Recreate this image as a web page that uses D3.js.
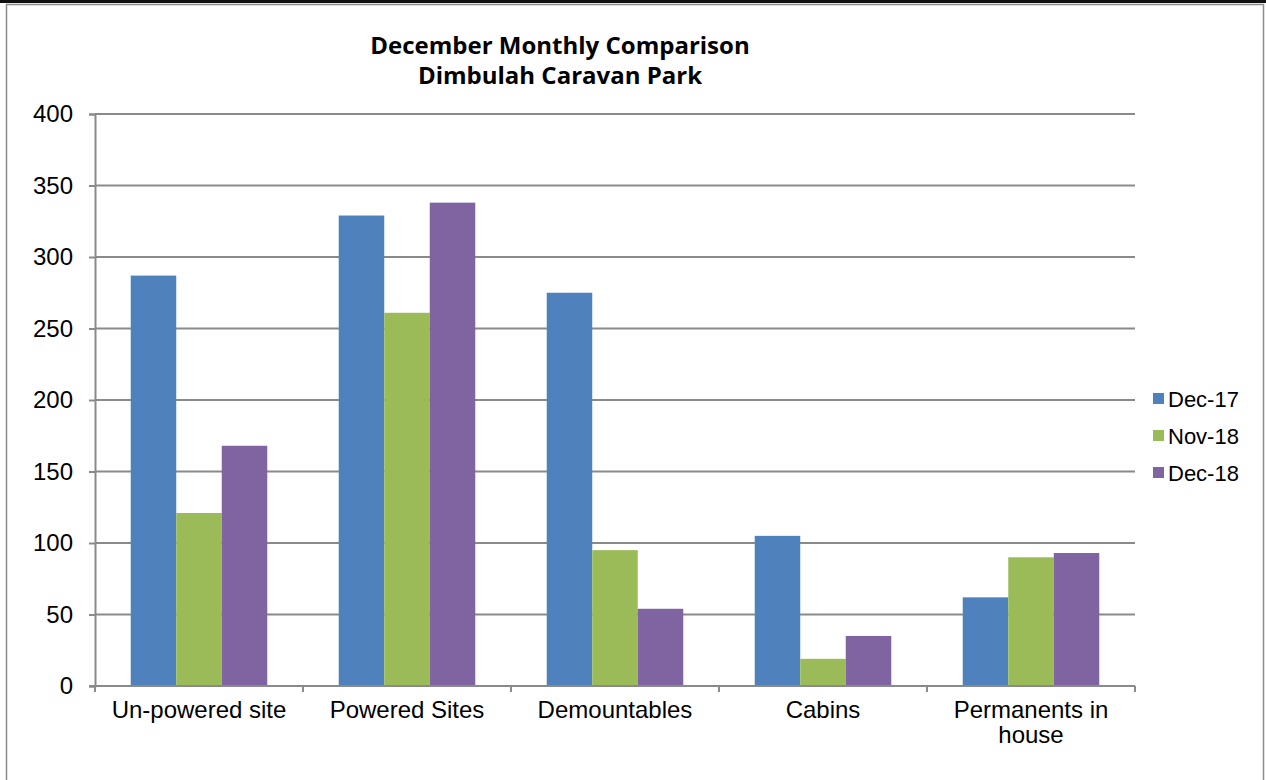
<!DOCTYPE html>
<html>
<head>
<meta charset="utf-8">
<script src="https://cdn.jsdelivr.net/npm/d3@7"></script>
<style>
  body { margin: 0; background: #fff; }
  svg { display: block; }
</style>
</head>
<body>
<svg></svg>
<script>
const categories = ["Un-powered site", "Powered Sites", "Demountables", "Cabins", "Permanents in house"];
const seriesNames = ["Dec-17", "Nov-18", "Dec-18"];
const dec17 = [287, 329, 275, 105, 62];
const nov18 = [121, 261, 95, 19, 90];
const dec18 = [168, 338, 54, 35, 93];
const yTicks = [0, 50, 100, 150, 200, 250, 300, 350, 400];
const colors = ["#4F81BD", "#9BBB59", "#8064A2"];

const svgWidth = 1266;
const svgHeight = 780;

const svg = d3.select("svg")
    .attr("width", svgWidth)
    .attr("height", svgHeight);

// outer frame
svg.append("rect")
    .attr("x", 6.5).attr("y", 4.5)
    .attr("width", 1257).attr("height", 780)
    .attr("fill", "#fff")
    .attr("stroke", "#8c8c8c")
    .attr("stroke-width", 1.5);
svg.append("rect")
    .attr("x", 0).attr("y", 0)
    .attr("width", svgWidth).attr("height", 3)
    .attr("fill", "#111");

const margin = {top: 114, left: 95};
const width = 1040;
const height = 572;
const g = svg.append("g").attr("transform", "translate(" + margin.left + "," + margin.top + ")");

const x0 = d3.scaleBand()
    .domain(categories)
    .range([0, width])
    .padding(0);

const x1 = d3.scaleBand()
    .domain(seriesNames)
    .range([0, x0.bandwidth()])
    .paddingInner(0)
    .paddingOuter(0.785);

const y = d3.scaleLinear()
    .domain([0, 400])
    .range([height, 0]);

const color = d3.scaleOrdinal().domain(seriesNames).range(colors);

// gridlines
g.append("g")
    .selectAll("line")
    .data(yTicks.filter(d => d > 0))
    .join("line")
    .attr("x1", 0).attr("x2", width)
    .attr("y1", d => y(d)).attr("y2", d => y(d))
    .attr("stroke", "#8a8a8a")
    .attr("stroke-width", 2);

// bars
const data = categories.map((c, i) => ({
    cat: c,
    vals: [dec17[i], nov18[i], dec18[i]].map((v, j) => ({key: seriesNames[j], value: v}))
}));

g.append("g")
    .selectAll("g")
    .data(data)
    .join("g")
    .attr("transform", d => "translate(" + x0(d.cat) + ",0)")
    .selectAll("rect")
    .data(d => d.vals)
    .join("rect")
    .attr("x", d => x1(d.key))
    .attr("y", d => y(d.value))
    .attr("width", x1.bandwidth())
    .attr("height", d => height - y(d.value))
    .attr("fill", d => color(d.key));

// y-axis
const yAxis = g.append("g")
    .call(d3.axisLeft(y).tickValues(yTicks).tickSize(6).tickPadding(16));
yAxis.select(".domain").attr("stroke", "#8a8a8a").attr("stroke-width", 2);
yAxis.selectAll(".tick line").attr("stroke", "#8a8a8a").attr("stroke-width", 2);
yAxis.selectAll(".tick text")
    .attr("font-family", "Liberation Sans, Arial, sans-serif")
    .attr("font-size", 24)
    .attr("fill", "#000");

// x-axis
const xAxis = g.append("g")
    .attr("transform", "translate(0," + height + ")");
xAxis.append("line")
    .attr("x1", -6).attr("x2", width)
    .attr("stroke", "#8a8a8a").attr("stroke-width", 2);
xAxis.selectAll(".xtick")
    .data(d3.range(categories.length + 1))
    .join("line")
    .attr("class", "xtick")
    .attr("x1", i => i * x0.step()).attr("x2", i => i * x0.step())
    .attr("y1", 0).attr("y2", 6)
    .attr("stroke", "#8a8a8a").attr("stroke-width", 2);

const labelLines = {"Permanents in house": ["Permanents in", "house"]};
xAxis.selectAll(".xlabel")
    .data(categories)
    .join("text")
    .attr("class", "xlabel")
    .attr("x", d => x0(d) + x0.bandwidth() / 2)
    .attr("y", 32)
    .attr("text-anchor", "middle")
    .attr("font-family", "Liberation Sans, Arial, sans-serif")
    .attr("font-size", 24)
    .attr("fill", "#000")
    .each(function(d) {
        const lines = labelLines[d] || [d];
        d3.select(this).selectAll("tspan")
            .data(lines)
            .join("tspan")
            .attr("x", x0(d) + x0.bandwidth() / 2)
            .attr("dy", (l, i) => i === 0 ? 0 : 25)
            .text(l => l);
    });

// title
const title = svg.append("text")
    .attr("x", 560)
    .attr("text-anchor", "middle")
    .attr("font-family", "Open Sans, sans-serif")
    .attr("font-weight", "bold")
    .attr("font-size", 24)
    .attr("fill", "#000");
title.append("tspan").attr("x", 560).attr("y", 54).text("December  Monthly Comparison");
title.append("tspan").attr("x", 560).attr("y", 84).text("Dimbulah Caravan Park");

// legend
const legend = svg.append("g")
    .selectAll("g")
    .data(seriesNames)
    .join("g")
    .attr("transform", (d, i) => "translate(1153," + (399 + i * 37) + ")");
legend.append("rect")
    .attr("x", 0).attr("y", -6)
    .attr("width", 11).attr("height", 11)
    .attr("fill", d => color(d));
legend.append("text")
    .attr("x", 15).attr("y", 8)
    .attr("font-family", "Liberation Sans, Arial, sans-serif")
    .attr("font-size", 22)
    .attr("fill", "#000")
    .text(d => d);
</script>
</body>
</html>
